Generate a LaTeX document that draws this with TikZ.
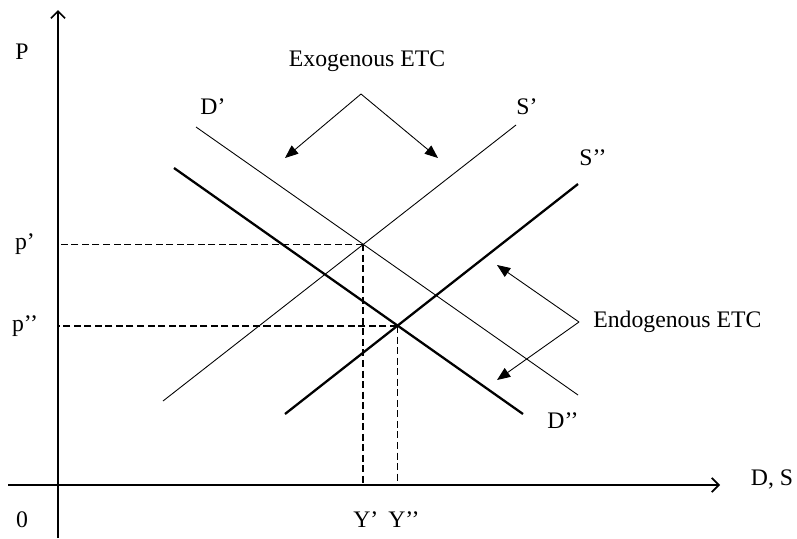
\documentclass[tikz,border=0pt]{standalone}
\usepackage{fontspec}
\setmainfont{Liberation Serif}
\usetikzlibrary{arrows.meta}

\begin{document}
\begin{tikzpicture}[x=0.02cm,y=-0.02cm,
  lbl/.style={font=\fontsize{13.5}{16}\selectfont,inner sep=0pt},
  thincurve/.style={line width=0.5pt},
  thickcurve/.style={line width=1.3pt},
  guide/.style={dash pattern=on 4pt off 2pt},
  shiftarrow/.style={line width=0.5pt,-{Triangle[length=7.5pt,width=6pt]}}]

  \useasboundingbox (0,0) rectangle (797,538);

  %% ---- Axes ----
  \coordinate (ytop) at (58,10);
  \coordinate (ybot) at (58,538);
  \coordinate (xleft) at (8,485);
  \coordinate (xright) at (720,485);
  \draw[line width=1pt,-{Straight Barb[length=4pt,width=8pt]}] (ybot) -- (ytop);
  \draw[line width=1pt,-{Straight Barb[length=4pt,width=8pt]}] (xleft) -- (xright);
  \node[lbl] (plab) at (22,52) {P};
  \node[lbl] (zero) at (22,520) {0};
  \node[lbl] (dslab) at (772,479) {D, S};

  %% ---- Demand and supply curves ----
  \coordinate (d1a) at (196,127);  \coordinate (d1b) at (578,395);
  \coordinate (s1a) at (163,401);  \coordinate (s1b) at (516,125);
  \coordinate (d2a) at (174,168);  \coordinate (d2b) at (523,414);
  \coordinate (s2a) at (285,414);  \coordinate (s2b) at (578,184);
  \draw[thincurve] (d1a) -- (d1b);
  \draw[thincurve] (s1a) -- (s1b);
  \draw[thickcurve] (d2a) -- (d2b);
  \draw[thickcurve] (s2a) -- (s2b);
  \node[lbl] (d1lab) at (213,107) {D’};
  \node[lbl] (s1lab) at (527,107) {S’};
  \node[lbl] (s2lab) at (593,158) {S’’};
  \node[lbl] (d2lab) at (563,421) {D’’};

  % Equilibria and guide lines
  \coordinate (eq1) at (363,244);
  \coordinate (eq2) at (397,326);
  \draw[guide,line width=0.5pt] (eq1) -- (eq1 -| ybot);
  \draw[guide,line width=1.1pt] (eq1) -- (eq1 |- xleft);
  \draw[guide,line width=1.1pt] (eq2) -- (eq2 -| ybot);
  \draw[guide,line width=0.5pt] (eq2) -- (eq2 |- xleft);
  \node[lbl] (p1lab) at (25,244) {p’};
  \node[lbl] (p2lab) at (25,326) {p’’};
  \node[lbl,anchor=west] (y1lab) at (353,520) {Y’};
  \node[lbl,anchor=west] (y2lab) at (388,520) {Y’’};

  %% ---- Technical change labels ----
  \node[lbl] (exo) at (367,61) {Exogenous ETC};
  \coordinate (exotop) at (361,94);
  \coordinate (exoleft) at (285,158);
  \coordinate (exoright) at (438,158);
  \draw[shiftarrow] (exotop) -- (exoleft);
  \draw[shiftarrow] (exotop) -- (exoright);

  \node[lbl,anchor=west] (endo) at (593,322) {Endogenous ETC};
  \coordinate (endotip) at (579,322);
  \coordinate (endoup) at (497,265);
  \coordinate (endodown) at (497,380);
  \draw[shiftarrow] (endotip) -- (endoup);
  \draw[shiftarrow] (endotip) -- (endodown);

\end{tikzpicture}
\end{document}
